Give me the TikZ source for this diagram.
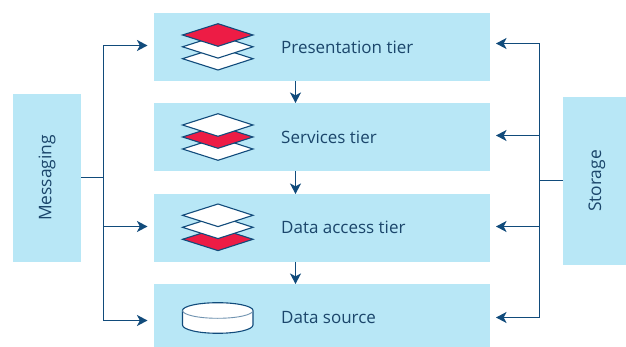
\documentclass[tikz,border=0pt]{standalone}
\usepackage{fontspec}
\setmainfont{Open Sans}
\usetikzlibrary{arrows.meta}
\definecolor{boxblue}{HTML}{B8E7F6}
\definecolor{navy}{HTML}{114B7B}
\definecolor{txt}{HTML}{1B466B}
\definecolor{layerred}{HTML}{ED1C45}
\tikzset{
  x=1pt,y=-1pt,
  band/.style={fill=boxblue,draw=none,inner sep=0pt,outer sep=0pt,anchor=north west},
  label/.style={text=txt,font=\fontsize{17}{20}\selectfont,inner sep=0pt,anchor=west},
  sidelabel/.style={text=txt,font=\fontsize{17.4}{20}\selectfont,inner sep=0pt,rotate=90},
  conn/.style={draw=navy,line width=1.2pt},
  flow/.style={conn,-{Stealth[length=10.5pt,width=11pt,inset=2.8pt]}},
  sheet/.style={draw=navy,line width=1.1pt,line join=miter},
}
\newcommand{\layer}[2]{\draw[sheet,fill=#2] (182.5,#1) -- (218,#1-11.3) -- (253,#1) -- (218,#1+11.3) -- cycle;}
\begin{document}
\begin{tikzpicture}
\useasboundingbox (0,0) rectangle (626,347);
% bands
\node[band,minimum width=336pt,minimum height=68pt] (pres) at (154,13) {};
\node[band,minimum width=336pt,minimum height=68pt] (serv) at (154,103) {};
\node[band,minimum width=336pt,minimum height=68pt] (data) at (154,194) {};
\node[band,minimum width=336pt,minimum height=63pt] (src) at (154,284) {};
\node[band,minimum width=68pt,minimum height=168pt] (msg) at (13,94) {};
\node[band,minimum width=63pt,minimum height=168pt] (stor) at (563,97) {};
% labels
\node[label] (lp) at (281,47) {Presentation tier};
\node[label] (ls) at (281,137) {Services tier};
\node[label] (ld) at (281,227.5) {Data access tier};
\node[label] (lr) at (281,318) {Data source};
\node[sidelabel] (lm) at (47,178) {Messaging};
\node[sidelabel] (lt) at (597,181) {Storage};
% stacks
\layer{58.7}{white}\layer{46.8}{white}\layer{35}{layerred}
\layer{149}{white}\layer{137}{layerred}\layer{125}{white}
\layer{239.3}{layerred}\layer{227.3}{white}\layer{215.3}{white}
% cylinder
\draw[sheet,fill=white] (182.5,310.5) -- (182.5,325) arc[start angle=180,end angle=360,x radius=35.25pt,y radius=8.3pt] -- (253,310.5) arc[start angle=0,end angle=180,x radius=35.25pt,y radius=7.8pt] -- cycle;
\draw[draw=navy!60,line width=0.9pt] (182.5,310.5) arc[start angle=180,end angle=360,x radius=35.25pt,y radius=7.8pt];
% vertical flow
\coordinate (vx) at (295.5,0);
\draw[flow] (vx |- pres.south) -- (vx |- serv.north);
\draw[flow] (vx |- serv.south) -- (vx |- data.north);
\draw[flow] (vx |- data.south) -- (vx |- src.north);
% messaging
\coordinate (ltrunk) at (103.5,177.5);
\coordinate (lt1) at (147.5,45.5);
\coordinate (lt3) at (147.5,226.5);
\coordinate (lt4) at (147.5,320.5);
\draw[conn] (msg.east |- ltrunk) -- (ltrunk);
\draw[flow] (ltrunk) |- (lt1);
\draw[flow] (ltrunk) |- (lt4);
\draw[flow] (ltrunk |- lt3) -- (lt3);
% storage
\coordinate (rtrunk) at (539.5,180.5);
\coordinate (rt1) at (496,43.5);
\coordinate (rt2) at (496,135.5);
\coordinate (rt3) at (496,226.5);
\coordinate (rt4) at (496,317.5);
\draw[conn] (stor.west |- rtrunk) -- (rtrunk);
\draw[flow] (rtrunk) |- (rt1);
\draw[flow] (rtrunk) |- (rt4);
\draw[flow] (rtrunk |- rt2) -- (rt2);
\draw[flow] (rtrunk |- rt3) -- (rt3);
\end{tikzpicture}
\end{document}
